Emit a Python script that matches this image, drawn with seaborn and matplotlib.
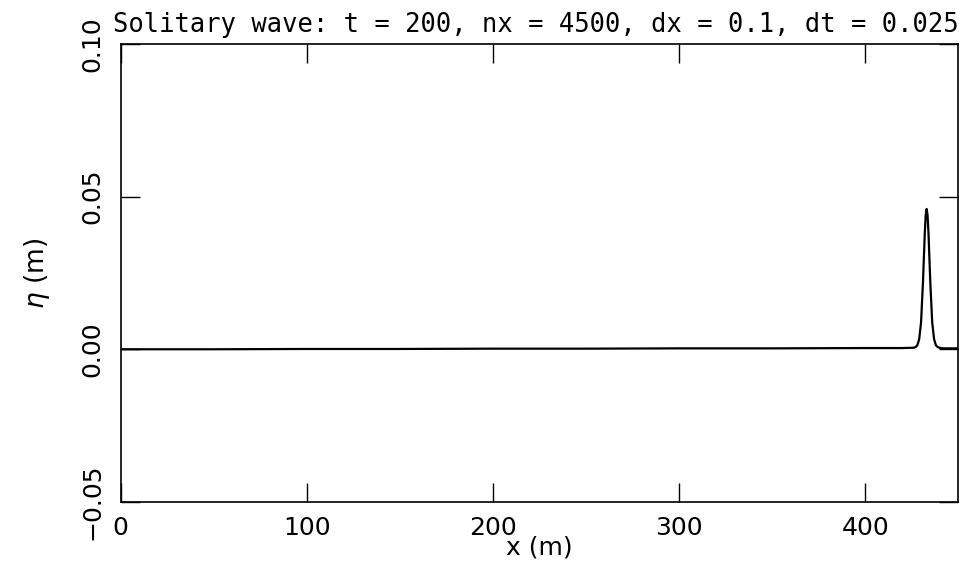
import matplotlib
matplotlib.use("Agg")
import matplotlib.pyplot as plt
import seaborn as sns
import pandas as pd

# Valores (superficie libre eta en t = 200)
x_m = [0, 50, 100, 150, 200, 250, 300, 350, 400, 420, 426, 427, 428, 429,
       430, 431, 432, 432.5, 433, 433.5, 434, 435, 436, 437, 438, 439, 440,
       442, 445, 450]
eta_m = [0.0, 0.0, 0.0001, 0.0001, 0.0002, 0.0002, 0.0003, 0.0003, 0.0004,
         0.0004, 0.0005, 0.0007, 0.0013, 0.0033, 0.0088, 0.0215, 0.0380,
         0.0440, 0.0460, 0.0440, 0.0380, 0.0215, 0.0088, 0.0033, 0.0013,
         0.0007, 0.0005, 0.0003, 0.0003, 0.0003]

x_ticks = [0, 100, 200, 300, 400]
y_ticks = [-0.05, 0.00, 0.05, 0.10]
y_tick_labels = ["−0.05", "0.00", "0.05", "0.10"]

sns.set_style("ticks")
plt.rcParams["font.family"] = ["DejaVu Sans"]
plt.rcParams["text.color"] = "black"
plt.rcParams["axes.labelcolor"] = "black"
plt.rcParams["xtick.color"] = "black"
plt.rcParams["ytick.color"] = "black"

df = pd.DataFrame({"x": x_m, "eta": eta_m})

fig = plt.figure(figsize=(9.66, 5.67), dpi=100)
ax = fig.add_axes([0.125, 0.115, 0.867, 0.807])

sns.lineplot(data=df, x="x", y="eta", ax=ax, color="black", linewidth=1.6)

ax.set_xlim(0, 450)
ax.set_ylim(-0.05, 0.10)
ax.set_xticks(x_ticks)
ax.set_xticklabels([str(t) for t in x_ticks], fontsize=18)
ax.set_yticks(y_ticks)
ax.set_yticklabels(y_tick_labels, fontsize=18, rotation=90, va="center")

ax.tick_params(axis="x", direction="in", length=14, width=1, top=True,
               pad=10)
ax.tick_params(axis="y", direction="in", length=14, width=1, right=True,
               pad=12)
for s in ax.spines.values():
    s.set_visible(True)
    s.set_linewidth(1.2)
    s.set_color("black")

ax.set_xlabel("x (m)", fontsize=18, labelpad=-3)
ax.set_ylabel(r"$\eta$ (m)", fontsize=19, labelpad=20)
ax.set_title("Solitary wave: t = 200, nx = 4500, dx = 0.1, dt = 0.025",
             fontsize=18.4, loc="right", pad=9, family="DejaVu Sans Mono")

fig.savefig("out.png", dpi=100)
